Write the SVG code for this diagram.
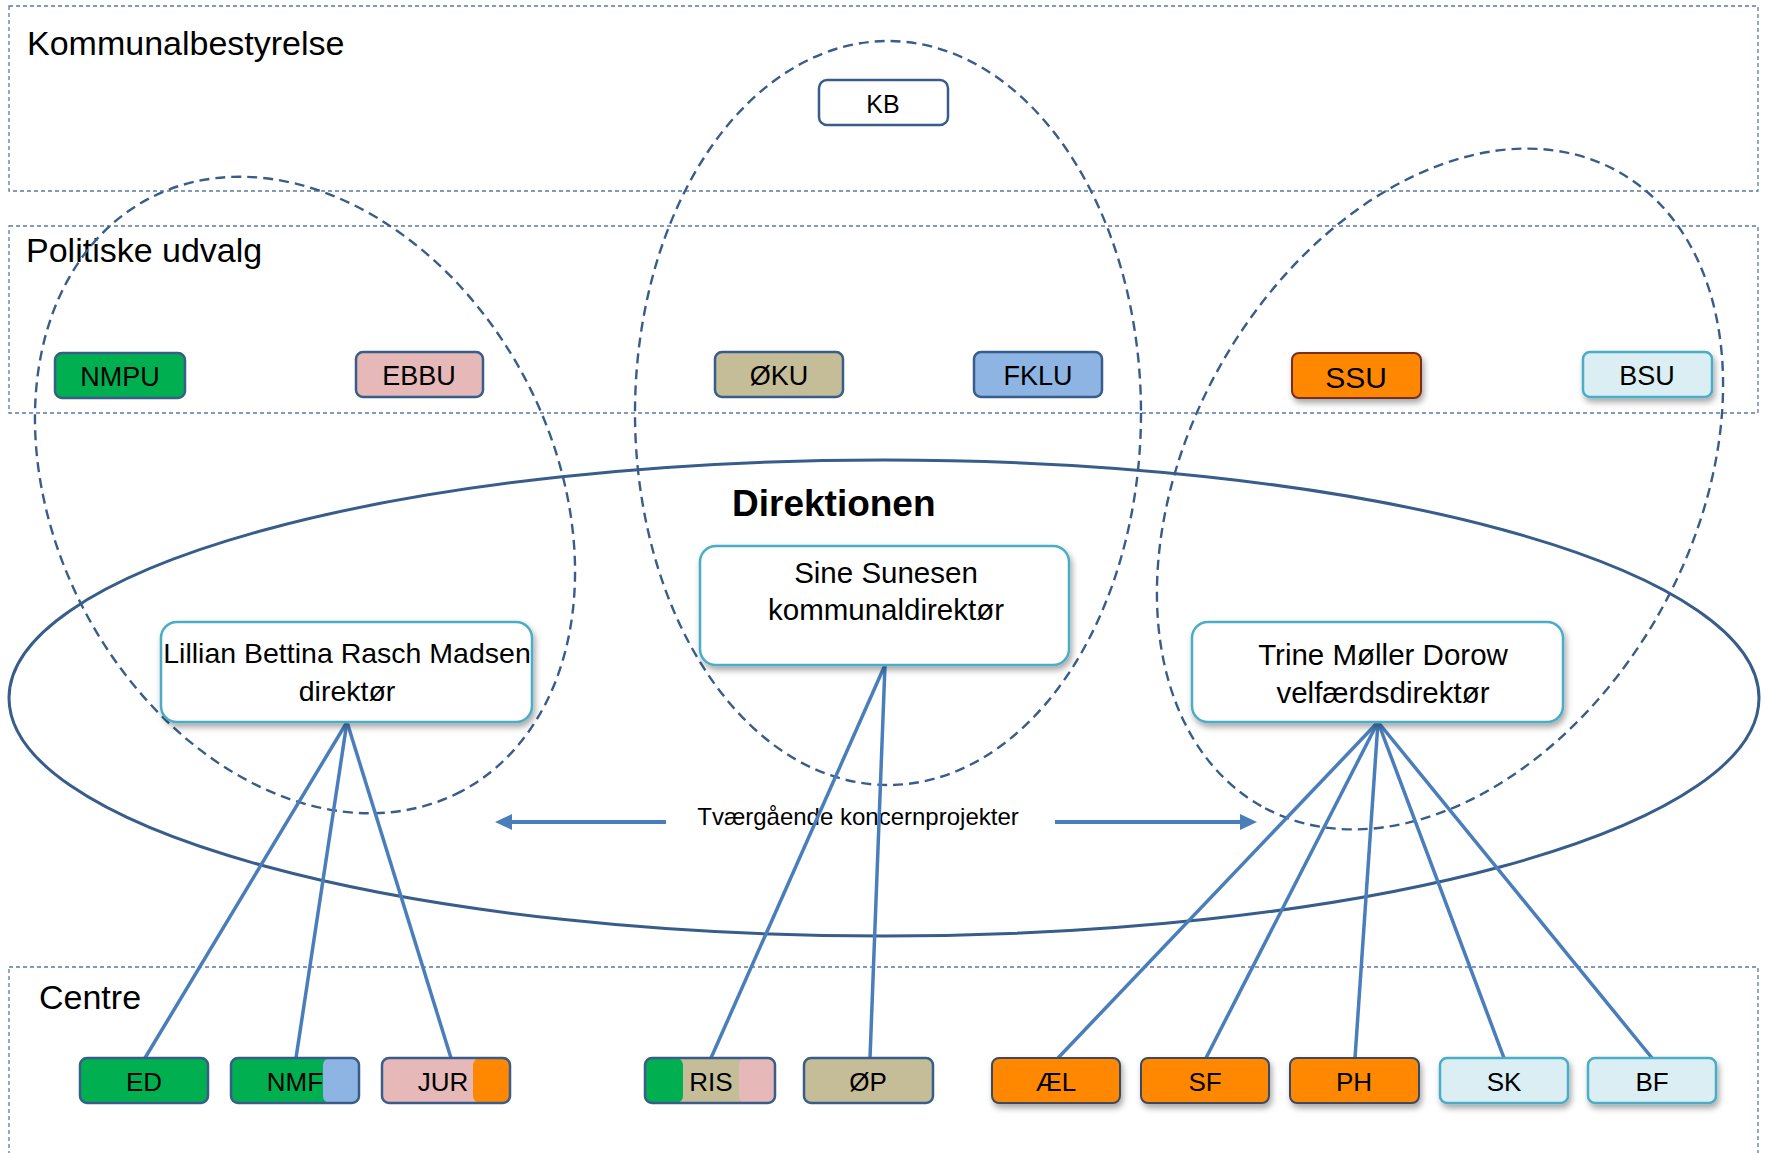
<svg xmlns="http://www.w3.org/2000/svg" width="1765" height="1153" viewBox="0 0 1765 1153">
<defs>
<style>
.layer{fill:none;stroke:#5B7BA3;stroke-width:1.3;stroke-dasharray:4 3}
.dash{fill:none;stroke:#385D8A;stroke-width:2.4;stroke-dasharray:10 6}
.big{fill:none;stroke:#385D8A;stroke-width:3}
.conn{stroke:#4A7EBB;stroke-width:3.5;fill:none}
.arrow{stroke:#4A7EBB;stroke-width:4;fill:none}
.lbl{font-family:"Liberation Sans",Arial,sans-serif;font-size:34px;fill:#000}
.t{font-family:"Liberation Sans",Arial,sans-serif;fill:#000;text-anchor:middle}
.box{stroke:#385D8A;stroke-width:2.5}
.lbox{fill:#DAEEF3;stroke:#4BACC6;stroke-width:2.5}
.dir{fill:#fff;stroke:#4BACC6;stroke-width:2.5}
</style>
<filter id="sh" x="-10%" y="-10%" width="130%" height="140%">
<feDropShadow dx="2" dy="4" stdDeviation="3" flood-color="#000" flood-opacity="0.35"/>
</filter>
<marker id="ah" markerUnits="userSpaceOnUse" markerWidth="18" markerHeight="18" refX="0" refY="8" orient="auto">
<path d="M0,0 L17,8 L0,16 Z" fill="#4A7EBB"/>
</marker>
<clipPath id="cNMF"><rect x="231" y="1058" width="128" height="45" rx="7"/></clipPath>
<clipPath id="cJUR"><rect x="382" y="1058" width="128" height="45" rx="7"/></clipPath>
<clipPath id="cRIS"><rect x="645" y="1058" width="130" height="45" rx="7"/></clipPath>
</defs>

<g id="layers">
<rect class="layer" x="9" y="6" width="1749" height="185"/>
<text class="lbl" x="27" y="55">Kommunalbestyrelse</text>
<rect class="layer" x="9" y="226" width="1749" height="187"/>
<text class="lbl" x="26" y="262">Politiske udvalg</text>
<rect class="layer" x="9" y="967" width="1749" height="200"/>
<text class="lbl" x="39" y="1009">Centre</text>
</g>

<g id="groupings">
<ellipse class="dash" cx="305" cy="495" rx="335" ry="249" transform="rotate(62.2 305 495)"/>
<ellipse class="dash" cx="888" cy="413" rx="253" ry="372"/>
<ellipse class="dash" cx="1440" cy="489" rx="364" ry="252" transform="rotate(119.4 1440 489)"/>
</g>

<g id="direktionen">
<ellipse class="big" cx="884" cy="698" rx="875" ry="238"/>
<text x="732" y="516" style="font-family:'Liberation Sans',Arial,sans-serif;font-size:37px;font-weight:bold;fill:#000">Direktionen</text>
</g>

<g id="tvaergaaende">
<line class="arrow" x1="666" y1="822" x2="512" y2="822" marker-end="url(#ah)"/>
<line class="arrow" x1="1055" y1="822" x2="1240" y2="822" marker-end="url(#ah)"/>
<text class="t" x="858" y="825" style="font-size:24px">Tværgående koncernprojekter</text>
</g>

<g id="connectors">
<line class="conn" x1="347" y1="722" x2="145" y2="1058"/>
<line class="conn" x1="347" y1="722" x2="296" y2="1058"/>
<line class="conn" x1="347" y1="722" x2="451" y2="1058"/>
<line class="conn" x1="885" y1="665" x2="711" y2="1058"/>
<line class="conn" x1="885" y1="665" x2="870" y2="1058"/>
<line class="conn" x1="1378" y1="722" x2="1058" y2="1058"/>
<line class="conn" x1="1378" y1="722" x2="1206" y2="1058"/>
<line class="conn" x1="1378" y1="722" x2="1355" y2="1058"/>
<line class="conn" x1="1378" y1="722" x2="1504" y2="1058"/>
<line class="conn" x1="1378" y1="722" x2="1652" y2="1058"/>
</g>

<g id="KB">
<rect x="819" y="80" width="129" height="45" rx="8" fill="#fff" stroke="#385D8A" stroke-width="2.5"/>
<text class="t" x="883" y="113" style="font-size:25px">KB</text>
</g>

<g id="NMPU">
<rect class="box" x="55" y="353" width="130" height="45" rx="7" fill="#00B050"/>
<text class="t" x="120" y="386" style="font-size:27px">NMPU</text>
</g>
<g id="EBBU">
<rect class="box" x="356" y="352" width="127" height="45" rx="7" fill="#E6B9B8"/>
<text class="t" x="419" y="385" style="font-size:27px">EBBU</text>
</g>
<g id="OKU">
<rect class="box" x="715" y="352" width="128" height="45" rx="7" fill="#C4BD97"/>
<text class="t" x="779" y="385" style="font-size:27px">ØKU</text>
</g>
<g id="FKLU">
<rect class="box" x="974" y="352" width="128" height="45" rx="7" fill="#8EB4E3"/>
<text class="t" x="1038" y="385" style="font-size:27px">FKLU</text>
</g>
<g id="SSU">
<rect x="1292" y="353" width="129" height="45" rx="7" fill="#FF8800" stroke="#772E23" stroke-width="2" filter="url(#sh)"/>
<text class="t" x="1356" y="388" style="font-size:30px">SSU</text>
</g>
<g id="BSU">
<rect class="lbox" x="1583" y="352" width="129" height="45" rx="7" filter="url(#sh)"/>
<text class="t" x="1647" y="385" style="font-size:27px">BSU</text>
</g>

<g id="Sine">
<rect class="dir" x="700" y="546" width="369" height="119" rx="16" filter="url(#sh)"/>
<text class="t" x="886" y="583" style="font-size:29.5px">Sine Sunesen</text>
<text class="t" x="886" y="620" style="font-size:29.5px">kommunaldirektør</text>
</g>
<g id="Lillian">
<rect class="dir" x="161" y="622" width="371" height="100" rx="16" filter="url(#sh)"/>
<text class="t" x="347" y="663" style="font-size:28.5px">Lillian Bettina Rasch Madsen</text>
<text class="t" x="347" y="701" style="font-size:28.5px">direktør</text>
</g>
<g id="Trine">
<rect class="dir" x="1192" y="622" width="371" height="100" rx="16" filter="url(#sh)"/>
<text class="t" x="1383" y="665" style="font-size:29.5px">Trine Møller Dorow</text>
<text class="t" x="1383" y="703" style="font-size:29.5px">velfærdsdirektør</text>
</g>

<g id="ED">
<rect class="box" x="80" y="1058" width="128" height="45" rx="7" fill="#00B050"/>
<text class="t" x="144" y="1091" style="font-size:26px">ED</text>
</g>
<g id="NMF">
<g clip-path="url(#cNMF)">
<rect x="231" y="1058" width="128" height="45" fill="#00B050"/>
<rect x="323" y="1058" width="36" height="45" rx="7" fill="#8EB4E3"/>
</g>
<rect class="box" x="231" y="1058" width="128" height="45" rx="7" fill="none"/>
<text class="t" x="295" y="1091" style="font-size:26px">NMF</text>
</g>
<g id="JUR">
<g clip-path="url(#cJUR)">
<rect x="382" y="1058" width="128" height="45" fill="#E6B9B8"/>
<rect x="473" y="1058" width="37" height="45" rx="7" fill="#FF8800"/>
</g>
<rect class="box" x="382" y="1058" width="128" height="45" rx="7" fill="none"/>
<text class="t" x="443" y="1091" style="font-size:26px">JUR</text>
</g>
<g id="RIS">
<g clip-path="url(#cRIS)">
<rect x="645" y="1058" width="130" height="45" fill="#C4BD97"/>
<rect x="645" y="1058" width="38" height="45" rx="7" fill="#00B050"/>
<rect x="739" y="1058" width="36" height="45" rx="7" fill="#E6B9B8"/>
</g>
<rect class="box" x="645" y="1058" width="130" height="45" rx="7" fill="none"/>
<text class="t" x="711" y="1091" style="font-size:26px">RIS</text>
</g>
<g id="OP">
<rect class="box" x="804" y="1058" width="129" height="45" rx="7" fill="#C4BD97"/>
<text class="t" x="868" y="1091" style="font-size:26px">ØP</text>
</g>
<g id="AEL">
<rect x="992" y="1058" width="128" height="45" rx="7" fill="#FF8800" stroke="#3B4A63" stroke-width="2" filter="url(#sh)"/>
<text class="t" x="1056" y="1091" style="font-size:26px">ÆL</text>
</g>
<g id="SF">
<rect x="1141" y="1058" width="128" height="45" rx="7" fill="#FF8800" stroke="#3B4A63" stroke-width="2" filter="url(#sh)"/>
<text class="t" x="1205" y="1091" style="font-size:26px">SF</text>
</g>
<g id="PH">
<rect x="1290" y="1058" width="129" height="45" rx="7" fill="#FF8800" stroke="#3B4A63" stroke-width="2" filter="url(#sh)"/>
<text class="t" x="1354" y="1091" style="font-size:26px">PH</text>
</g>
<g id="SK">
<rect class="lbox" x="1440" y="1058" width="128" height="45" rx="7" filter="url(#sh)"/>
<text class="t" x="1504" y="1091" style="font-size:26px">SK</text>
</g>
<g id="BF">
<rect class="lbox" x="1588" y="1058" width="128" height="45" rx="7" filter="url(#sh)"/>
<text class="t" x="1652" y="1091" style="font-size:26px">BF</text>
</g>
</svg>
